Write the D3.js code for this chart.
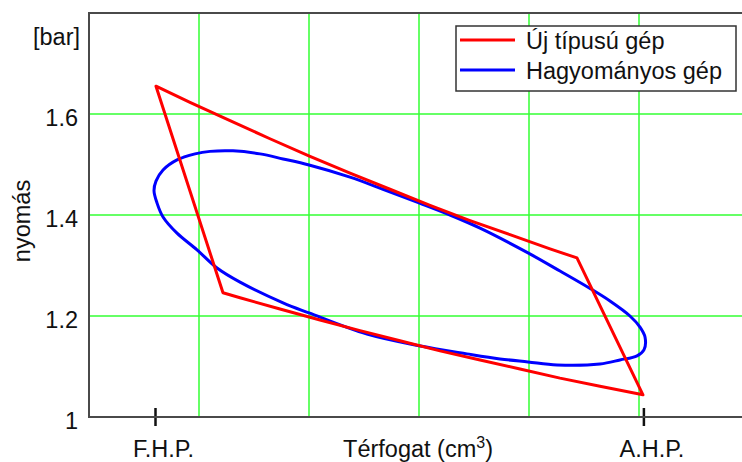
<!DOCTYPE html>
<html>
<head>
<meta charset="utf-8">
<script src="https://cdn.jsdelivr.net/npm/d3@7"></script>
<style>
  html, body { margin: 0; padding: 0; background: #fff; }
  svg { display: block; }
  text { font-family: "Liberation Sans", Arial, sans-serif; fill: #111; }
</style>
</head>
<body>
<svg id="chart" width="742" height="462"></svg>
<script>
// Pressure (bar) against relative cylinder volume for two machines.
const yTicks = [1, 1.2, 1.4, 1.6];
const xGrid = [1, 2, 3, 4, 5];
const deadCentreValues = [0.6, 5.04];
const deadCentreLabels = ["F.H.P.", "A.H.P."];

const seriesNames = ["Új típusú gép", "Hagyományos gép"];
const seriesColors = ["#ff0000", "#0000ff"];

// new machine: compression line, sharp corners, expansion line
const newVolume = [0.609, 0.918, 1.282, 1.645, 2.009, 2.373, 2.736, 3.100, 3.464, 3.827, 4.191, 4.436,
                   5.036, 4.645, 4.282, 3.918, 3.555, 3.191, 2.827, 2.464, 2.100, 1.736, 1.373, 1.218];
const newPressure = [1.655, 1.623, 1.587, 1.551, 1.516, 1.483, 1.451, 1.419, 1.389, 1.361, 1.333, 1.315,
                     1.044, 1.061, 1.077, 1.095, 1.113, 1.131, 1.151, 1.171, 1.192, 1.214, 1.236, 1.246];

// conventional machine: smooth closed loop
const oldVolume = [0.591, 0.609, 0.673, 0.800, 0.964, 1.100, 1.309, 1.555, 1.764, 2.000, 2.373, 2.673,
                   3.000, 3.282, 3.555, 3.991, 4.282, 4.555, 4.736, 4.918, 5.009, 5.055, 5.045, 4.982,
                   4.827, 4.645, 4.255, 3.991, 3.736, 3.436, 3.000, 2.527, 2.000, 1.764, 1.373, 1.164,
                   0.982, 0.800, 0.673, 0.618];
const oldPressure = [1.448, 1.467, 1.489, 1.509, 1.521, 1.526, 1.527, 1.521, 1.511, 1.499, 1.475, 1.451,
                     1.424, 1.400, 1.374, 1.325, 1.289, 1.2545, 1.2297, 1.200, 1.178, 1.158, 1.133, 1.121,
                     1.113, 1.105, 1.103, 1.109, 1.115, 1.125, 1.141, 1.164, 1.206, 1.226, 1.267, 1.295,
                     1.331, 1.364, 1.396, 1.424];

const svg = d3.select("#chart");
const plotLeft = 89, plotTop = 13, plotBottom = 417;
const fontSize = 23.5;

const x = d3.scaleLinear().domain([0, 6]).range([plotLeft, plotLeft + 660]);
const y = d3.scaleLinear().domain([1, 1.8]).range([plotBottom, plotTop]);

// grid
const grid = svg.append("g").attr("stroke", "#33ff33").attr("stroke-width", 1.5);
grid.selectAll("line.v").data(xGrid).join("line").attr("class", "v")
  .attr("x1", d => x(d)).attr("x2", d => x(d)).attr("y1", plotTop).attr("y2", plotBottom);
grid.selectAll("line.h").data(yTicks.filter(d => d > 1)).join("line").attr("class", "h")
  .attr("x1", plotLeft).attr("x2", 742).attr("y1", d => y(d)).attr("y2", d => y(d));

// y axis labels
const yAxis = svg.append("g").attr("transform", `translate(${plotLeft},0)`)
  .call(d3.axisLeft(y).tickValues(yTicks).tickSize(0).tickPadding(11)
    .tickFormat(d => d3.format("")(d)));
yAxis.select(".domain").remove();
yAxis.selectAll("text").attr("font-size", fontSize).attr("dy", "0.47em")
  .style("font-family", '"Liberation Sans", Arial, sans-serif').attr("fill", "#111");

// x axis with dead-centre ticks
const xAxis = svg.append("g").attr("transform", `translate(0,${plotBottom})`)
  .call(d3.axisBottom(x).tickValues(deadCentreValues).tickSize(9).tickPadding(14)
    .tickFormat((d, i) => deadCentreLabels[i]));
xAxis.select(".domain").remove();
xAxis.selectAll(".tick line").attr("y1", -9).attr("y2", 9).attr("stroke", "#111").attr("stroke-width", 2.5);
xAxis.selectAll(".tick text").attr("font-size", fontSize).attr("dx", 8)
  .style("font-family", '"Liberation Sans", Arial, sans-serif').attr("fill", "#111");

// frame
svg.append("path")
  .attr("d", `M742,${plotTop}H${plotLeft}V${plotBottom}H742`)
  .attr("fill", "none").attr("stroke", "#4a4a4a").attr("stroke-width", 2);

// curves
const newPts = newVolume.map((v, i) => [v, newPressure[i]]);
const oldPts = oldVolume.map((v, i) => [v, oldPressure[i]]);

svg.append("path")
  .datum(oldPts)
  .attr("d", d3.line().x(d => x(d[0])).y(d => y(d[1])).curve(d3.curveCatmullRomClosed.alpha(0.5)))
  .attr("fill", "none").attr("stroke", seriesColors[1]).attr("stroke-width", 3);

svg.append("path")
  .datum(newPts)
  .attr("d", d3.line().x(d => x(d[0])).y(d => y(d[1])).curve(d3.curveLinearClosed))
  .attr("fill", "none").attr("stroke", seriesColors[0]).attr("stroke-width", 3)
  .attr("stroke-linejoin", "round");

// axis titles
svg.append("text").attr("x", 80).attr("y", 45).attr("text-anchor", "end")
  .attr("font-size", fontSize).text("[bar]");
svg.append("text").attr("transform", "translate(30,221) rotate(-90)")
  .attr("text-anchor", "middle").attr("font-size", fontSize).text("nyomás");
const xt = svg.append("text").attr("x", 418).attr("y", 457).attr("text-anchor", "middle")
  .attr("font-size", fontSize);
xt.append("tspan").text("Térfogat (cm");
xt.append("tspan").attr("font-size", 16).attr("dy", -9).text("3");
xt.append("tspan").attr("dy", 9).text(")");

// legend
const lg = svg.append("g");
lg.append("rect").attr("x", 456).attr("y", 26).attr("width", 280).attr("height", 65)
  .attr("fill", "#fff").attr("stroke", "#333").attr("stroke-width", 1.5);
seriesNames.forEach((name, i) => {
  const cy = 40 + i * 30;
  lg.append("line").attr("x1", 460).attr("x2", 515).attr("y1", cy).attr("y2", cy)
    .attr("stroke", seriesColors[i]).attr("stroke-width", 3);
  lg.append("text").attr("x", 526).attr("y", cy + 8.5).attr("font-size", fontSize).text(name);
});
</script>
</body>
</html>
